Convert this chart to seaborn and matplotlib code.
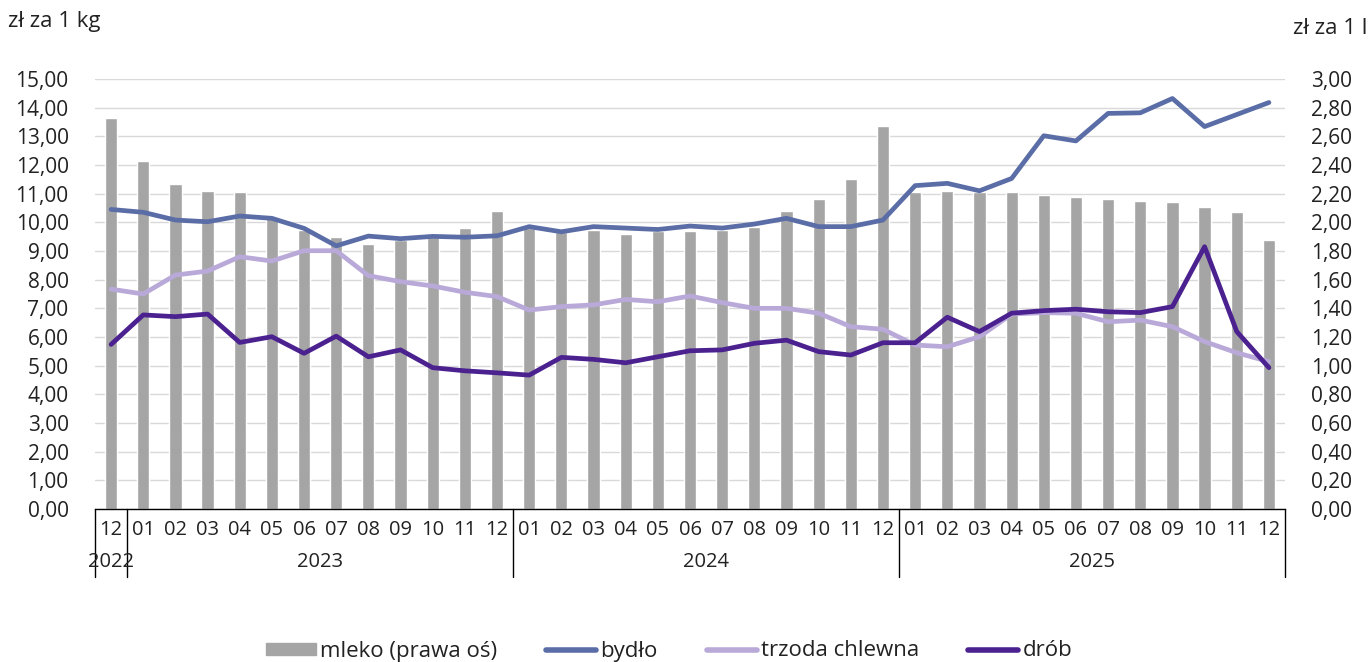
import pandas as pd
import matplotlib
matplotlib.use("Agg")
import matplotlib.pyplot as plt
import matplotlib.transforms as mtransforms
from matplotlib.lines import Line2D
from matplotlib.patches import Patch
from matplotlib.ticker import FuncFormatter, MultipleLocator
import seaborn as sns

# months from 2022-12 to 2025-12
months = ["12"] + ["%02d" % m for m in range(1, 13)] * 3
years = ["2022", "2023", "2024", "2025"]
year_span = [1, 12, 12, 12]

# mleko, zł za 1 l (right axis)
mleko = [2.73, 2.43, 2.27, 2.22, 2.21, 2.03, 1.95, 1.90, 1.85, 1.88, 1.90, 1.96, 2.08,
         1.96, 1.93, 1.95, 1.92, 1.94, 1.94, 1.95, 1.97, 2.08, 2.16, 2.30, 2.67,
         2.21, 2.22, 2.21, 2.21, 2.19, 2.18, 2.16, 2.15, 2.14, 2.11, 2.07, 1.88]

# zł za 1 kg (left axis)
bydlo = [10.45, 10.35, 10.08, 10.02, 10.22, 10.14, 9.79, 9.18, 9.52, 9.43, 9.51, 9.48, 9.53,
         9.85, 9.67, 9.85, 9.80, 9.75, 9.87, 9.80, 9.94, 10.14, 9.85, 9.85, 10.08,
         11.28, 11.36, 11.10, 11.53, 13.02, 12.84, 13.80, 13.82, 14.32, 13.34, 13.76, 14.18]
trzoda = [7.67, 7.50, 8.16, 8.30, 8.80, 8.65, 9.01, 9.01, 8.14, 7.93, 7.78, 7.56, 7.41,
          6.94, 7.06, 7.12, 7.31, 7.23, 7.43, 7.20, 7.00, 7.00, 6.83, 6.36, 6.27,
          5.72, 5.66, 6.01, 6.80, 6.85, 6.83, 6.53, 6.59, 6.36, 5.84, 5.45, 5.14]
drob = [5.74, 6.77, 6.71, 6.80, 5.81, 6.01, 5.43, 6.03, 5.31, 5.55, 4.93, 4.82, 4.75,
        4.67, 5.29, 5.22, 5.10, 5.31, 5.52, 5.55, 5.78, 5.89, 5.49, 5.37, 5.80,
        5.80, 6.69, 6.19, 6.83, 6.92, 6.97, 6.88, 6.85, 7.06, 9.15, 6.19, 4.93]

c_bar = "#a5a5a5"
c_bydlo = "#5a6da6"
c_trzoda = "#b9a9d9"
c_drob = "#4b2190"
c_text = "#222222"

df = pd.DataFrame({"idx": range(len(months)), "mleko": mleko,
                   "bydło": bydlo, "trzoda chlewna": trzoda, "drób": drob})
long = df.melt(id_vars="idx", value_vars=["bydło", "trzoda chlewna", "drób"],
               var_name="seria", value_name="cena")

sns.set_style("white")
plt.rcParams["font.family"] = ["Open Sans", "DejaVu Sans"]

fig = plt.figure(figsize=(13.7, 6.62), dpi=100)
ax = fig.add_axes([95 / 1370, 1 - 509 / 662, 1190 / 1370, 430 / 662])
ax2 = ax.twinx()

# bars on right axis (drawn underneath), lines on left axis on top
sns.barplot(data=df, x="idx", y="mleko", ax=ax2, color=c_bar, width=0.38,
            saturation=1, native_scale=True)
sns.lineplot(data=long, x="idx", y="cena", hue="seria", ax=ax,
             palette=[c_bydlo, c_trzoda, c_drob], linewidth=3.4, legend=False)
ax.set_zorder(ax2.get_zorder() + 1)
ax.patch.set_visible(False)

ax.set_xlim(-0.5, len(months) - 0.5)
ax.set_ylim(0, 15)
ax2.set_ylim(0, 3)
ax.yaxis.set_major_locator(MultipleLocator(1))
ax2.yaxis.set_major_locator(MultipleLocator(0.2))
fmt = FuncFormatter(lambda v, p: ("%.2f" % v).replace(".", ","))
ax.yaxis.set_major_formatter(fmt)
ax2.yaxis.set_major_formatter(fmt)

ax2.grid(axis="y", color="#d9d9d9", linewidth=1)
ax2.set_axisbelow(True)
ax.grid(False)

for a in (ax, ax2):
    for s in ("top", "left", "right", "bottom"):
        a.spines[s].set_visible(False)
    a.set_xlabel("")
    a.set_ylabel("")
ax.spines["bottom"].set_visible(True)
ax.spines["bottom"].set_color("black")
ax.spines["bottom"].set_linewidth(1)

ax.tick_params(axis="y", length=0, pad=19, labelsize=15, labelcolor=c_text)
ax2.tick_params(axis="y", length=0, pad=19, labelsize=15, labelcolor=c_text)
ax.set_xticks(range(len(months)))
ax.set_xticklabels(months)
ax.tick_params(axis="x", length=0, pad=8, labelsize=14.5, labelcolor=c_text)
ax2.tick_params(axis="x", length=0, labelbottom=False)

# year separators and labels
trans = mtransforms.blended_transform_factory(ax.transData, ax.transAxes)
edge = -0.5
bounds = [edge]
for n in year_span:
    edge += n
    bounds.append(edge)
for b in bounds:
    ax.plot([b, b], [0, -0.158], transform=trans, color="black", lw=1, clip_on=False)
for i, y in enumerate(years):
    ax.text((bounds[i] + bounds[i + 1]) / 2, -0.123, y, transform=trans,
            ha="center", va="center", fontsize=14.5, color=c_text)

fig.text(8 / 1370, 1 - 22 / 662, "zł za 1 kg", ha="left", va="center", fontsize=16, color=c_text)
fig.text(1367 / 1370, 1 - 28 / 662, "zł za 1 l", ha="right", va="center", fontsize=16, color=c_text)

handles = [Patch(color=c_bar),
           Line2D([], [], color=c_bydlo, lw=4, solid_capstyle="round"),
           Line2D([], [], color=c_trzoda, lw=4, solid_capstyle="round"),
           Line2D([], [], color=c_drob, lw=4, solid_capstyle="round")]
fig.legend(handles, ["mleko (prawa oś)", "bydło", "trzoda chlewna", "drób"],
           loc="center", bbox_to_anchor=(669 / 1370, 1 - 651 / 662), ncol=4, frameon=False,
           fontsize=16, handlelength=2.25, handleheight=0.45, handletextpad=0.2,
           columnspacing=2.2, labelcolor=c_text)

fig.savefig("out.png", dpi=100)
